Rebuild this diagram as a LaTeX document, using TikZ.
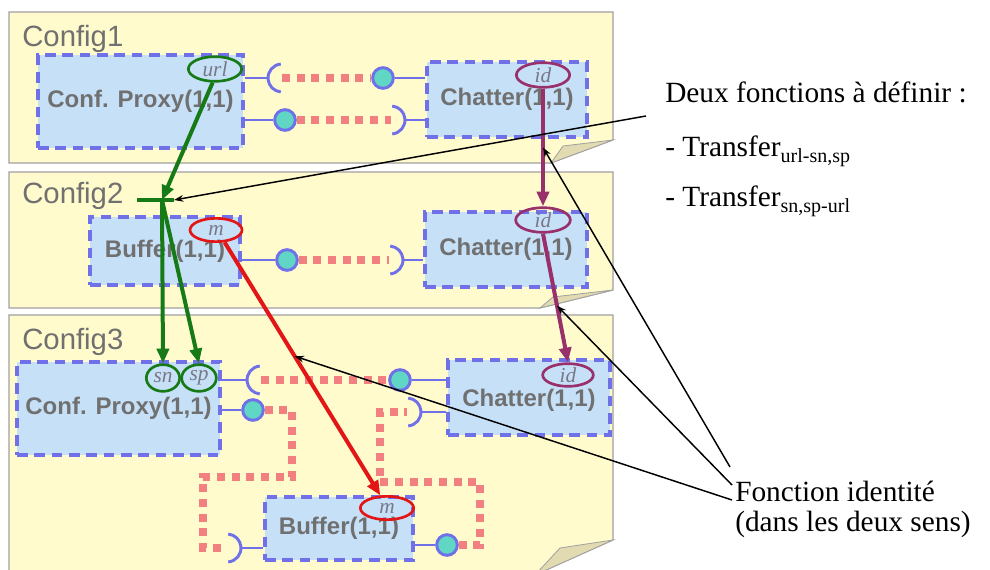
\documentclass[tikz,border=0pt]{standalone}
\usepackage{fontspec}
\setmainfont{Liberation Serif}
\newfontfamily\arialf{Liberation Sans}
\usetikzlibrary{arrows.meta,shapes.geometric,calc}
\definecolor{panelfill}{RGB}{255,251,205}
\definecolor{panelline}{RGB}{160,160,160}
\definecolor{flapfill}{RGB}{226,219,178}
\definecolor{titlegray}{RGB}{112,112,112}
\definecolor{compfill}{RGB}{198,224,248}
\definecolor{compline}{RGB}{112,112,232}
\definecolor{dotred}{RGB}{242,128,128}
\definecolor{ballfill}{RGB}{96,214,196}
\definecolor{arrgreen}{RGB}{22,122,22}
\definecolor{arrpurple}{RGB}{152,48,108}
\definecolor{arrred}{RGB}{226,22,22}
\definecolor{labgray}{RGB}{120,120,135}
\begin{document}
\begin{tikzpicture}[x=0.75pt,y=-0.75pt,
  panel/.style={fill=panelfill, draw=panelline, line width=0.8pt},
  flap/.style={fill=flapfill, draw=panelline, line width=0.6pt},
  title/.style={anchor=base west, inner sep=0pt, text=titlegray, font=\arialf\fontsize{22}{24}\selectfont},
  comp/.style={rectangle, fill=compfill, draw=compline, line width=2.4pt, dash pattern=on 8pt off 5pt, inner sep=0pt, text=titlegray, font=\arialf\bfseries\fontsize{18}{20}\selectfont},
  port/.style={ellipse, line width=2pt, inner sep=0pt, text=labgray, font=\itshape\fontsize{16}{16}\selectfont},
  ifc/.style={draw=compline, line width=2.2pt},
  wire/.style={draw=dotred, line width=6pt, dash pattern=on 6pt off 5pt},
  ball/.style={circle, fill=ballfill, draw=compline, line width=2.2pt, minimum size=15.5pt, inner sep=0pt},
  bigarrow/.style={line width=3pt, -{Triangle[length=11pt,width=9pt]}},
  note/.style={draw=black, line width=1.1pt, -{Stealth[length=7pt,width=5pt]}},
  ann/.style={anchor=base west, inner sep=0pt, font=\fontsize{22}{24}\selectfont},
  sockopenright/.pic={\draw[ifc] (95:10.5pt) arc[start angle=95, end angle=265, radius=10.5pt];},
  sockopenleft/.pic={\draw[ifc] (-85:10.5pt) arc[start angle=-85, end angle=85, radius=10.5pt];}
]
\useasboundingbox (0,0) rectangle (990,570);
\fill[white] (0,0) rectangle (990,570);

% panels
\path[panel] (9,12) -- (613,12) -- (613,140) -- (551,163) -- (9,163) -- cycle;
\path[flap] (613,140) -- (563,146) -- (551,163) -- cycle;
\path[panel] (9,172) -- (613,172) -- (613,290) -- (540,308) -- (9,308) -- cycle;
\path[flap] (613,290) -- (553,297) -- (540,308) -- cycle;
\path[panel] (9,315) -- (613,315) -- (613,540) -- (535,575) -- (9,575) -- cycle;
\path[flap] (613,540) -- (560,548) -- (535,575) -- cycle;

\node[title] (cfg1) at (22,47) {Config1};
\node[title] (cfg2) at (22,204) {Config2};
\node[title] (cfg3) at (22,350) {Config3};

% components
\node[comp, minimum width=153.75pt, minimum height=69.75pt] (P1) at (140.5,101.5) {Conf. Proxy(1,1)};
\node[comp, minimum width=120pt, minimum height=56.25pt] (C1) at (507,99.5) {Chatter(1,1)};
\node[comp, minimum width=112.5pt, minimum height=51pt] (B2) at (165,251) {Buffer(1,1)};
\node[comp, minimum width=121.5pt, minimum height=56.25pt] (C2) at (506,249.5) {Chatter(1,1)};
\node[comp, minimum width=152.25pt, minimum height=69.75pt] (P3) at (118.5,408.5) {Conf. Proxy(1,1)};
\node[comp, minimum width=121.5pt, minimum height=56.25pt, text height=17pt] (C3) at (529,397.5) {Chatter(1,1)};
\node[comp, minimum width=111pt, minimum height=47.25pt] (B3) at (339,528.5) {Buffer(1,1)};

% balls and socket centres
\node[ball] (b1a) at (383,78) {};
\node[ball] (b1b) at (285,120) {};
\node[ball] (b2) at (287,260) {};
\node[ball] (b3a) at (400,380) {};
\node[ball] (b3b) at (253,410) {};
\node[ball] (b3c) at (447,545) {};
\coordinate (S1a) at (282,78);
\coordinate (S1b) at (391,120);
\coordinate (S2) at (389,260);
\coordinate (S3a) at (261,380);
\coordinate (S3b) at (227,548);
\coordinate (S3c) at (407,412);

% wires (red dotted)
\draw[wire] (S1a) -- (b1a);
\draw[wire] (b1b) -- (S1b);
\draw[wire] (b2) -- (S2);
\draw[wire] (S3a) -- (b3a);
\draw[wire] (b3b) -- (292,410) -- (292,477) -- (203,477) -- (203,548) -- (S3b);
\draw[wire] (b3c) -- (480,545) -- (480,482) -- (380,482) -- (380,412) -- (S3c);

% sockets
\pic at (S1a) {sockopenright};
\pic at (S1b) {sockopenleft};
\pic at (S2) {sockopenleft};
\pic at (S3a) {sockopenright};
\pic at (S3b) {sockopenleft};
\pic at (S3c) {sockopenleft};

% stems
\draw[ifc] (P1.east |- S1a) -- ($(S1a)+(-10.5pt,0pt)$);
\draw[ifc] (b1a) -- (C1.west |- b1a);
\draw[ifc] (P1.east |- b1b) -- (b1b);
\draw[ifc] ($(S1b)+(10.5pt,0pt)$) -- (C1.west |- S1b);
\draw[ifc] (B2.east |- b2) -- (b2);
\draw[ifc] ($(S2)+(10.5pt,0pt)$) -- (C2.west |- S2);
\draw[ifc] (P3.east |- S3a) -- ($(S3a)+(-10.5pt,0pt)$);
\draw[ifc] (b3a) -- (C3.west |- b3a);
\draw[ifc] (P3.east |- b3b) -- (b3b);
\draw[ifc] ($(S3b)+(10.5pt,0pt)$) -- (B3.west |- S3b);
\draw[ifc] (B3.east |- b3c) -- (b3c);
\draw[ifc] ($(S3c)+(10.5pt,0pt)$) -- (C3.west |- S3c);

% port ellipses
\node[port, draw=arrgreen, minimum width=40pt, minimum height=18.5pt] (url) at (215,69) {url};
\node[port, draw=arrpurple, minimum width=40pt, minimum height=18.5pt] (id1) at (543,75) {id};
\node[port, draw=arrred, minimum width=39pt, minimum height=17.5pt] (m2) at (216,230) {m};
\node[port, draw=arrpurple, minimum width=41pt, minimum height=18.5pt] (id2) at (543,220) {id};
\node[port, draw=arrgreen, minimum width=25pt, minimum height=20pt] (sn) at (163,378) {sn};
\node[port, draw=arrgreen, minimum width=26pt, minimum height=20pt] (sp) at (199,378) {sp};
\node[port, draw=arrpurple, minimum width=38pt, minimum height=17pt] (id3) at (568,375) {id};
\node[port, draw=arrred, minimum width=40pt, minimum height=17.5pt] (m3) at (387,508) {m};

% coloured arrows
\coordinate (J) at (162,200);
\coordinate (barW) at (137,200);
\coordinate (barE) at (174,200);
\draw[arrgreen, line width=3pt] (barW) -- (barE);
\draw[bigarrow, arrgreen] (url.-100) -- (J);
\draw[bigarrow, arrgreen] (J) -- (sn.north);
\draw[bigarrow, arrgreen] (J) -- (sp.north);
\draw[bigarrow, arrpurple] (id1.south) -- (id2.north) coordinate[pos=0.5] (q1);
\draw[bigarrow, arrpurple] (id2.south) -- (id3.north) coordinate[pos=0.56] (q2);
\draw[bigarrow, arrred] (m2.-55) -- (m3.118) coordinate[pos=0.45] (q3);

% annotations
\node[ann] (deux) at (665,103) {Deux fonctions à définir :};
\node[ann] (tr1) at (665,157) {- Transfer\raisebox{-4.5pt}{\fontsize{15}{15}\selectfont url-sn,sp}};
\node[ann] (tr2) at (665,207) {- Transfer\raisebox{-4.5pt}{\fontsize{15}{15}\selectfont sn,sp-url}};
\node[ann] (fid1) at (735,502) {Fonction identité};
\node[ann] (fid2) at (735,532) {(dans les deux sens)};

\coordinate (dstart) at ($(deux.base west)+(-19,13)$);
\coordinate (f1) at ($(fid1.base west)+(-5,-35)$);
\coordinate (f2) at ($(fid1.base west)+(-3,-17)$);
\coordinate (f3) at ($(fid1.base west)+(-3,-2)$);
\draw[note] (dstart) -- (barE);
\draw[note] (f1) -- (q1);
\draw[note] (f2) -- (q2);
\draw[note] (f3) -- (q3);
\end{tikzpicture}
\end{document}
